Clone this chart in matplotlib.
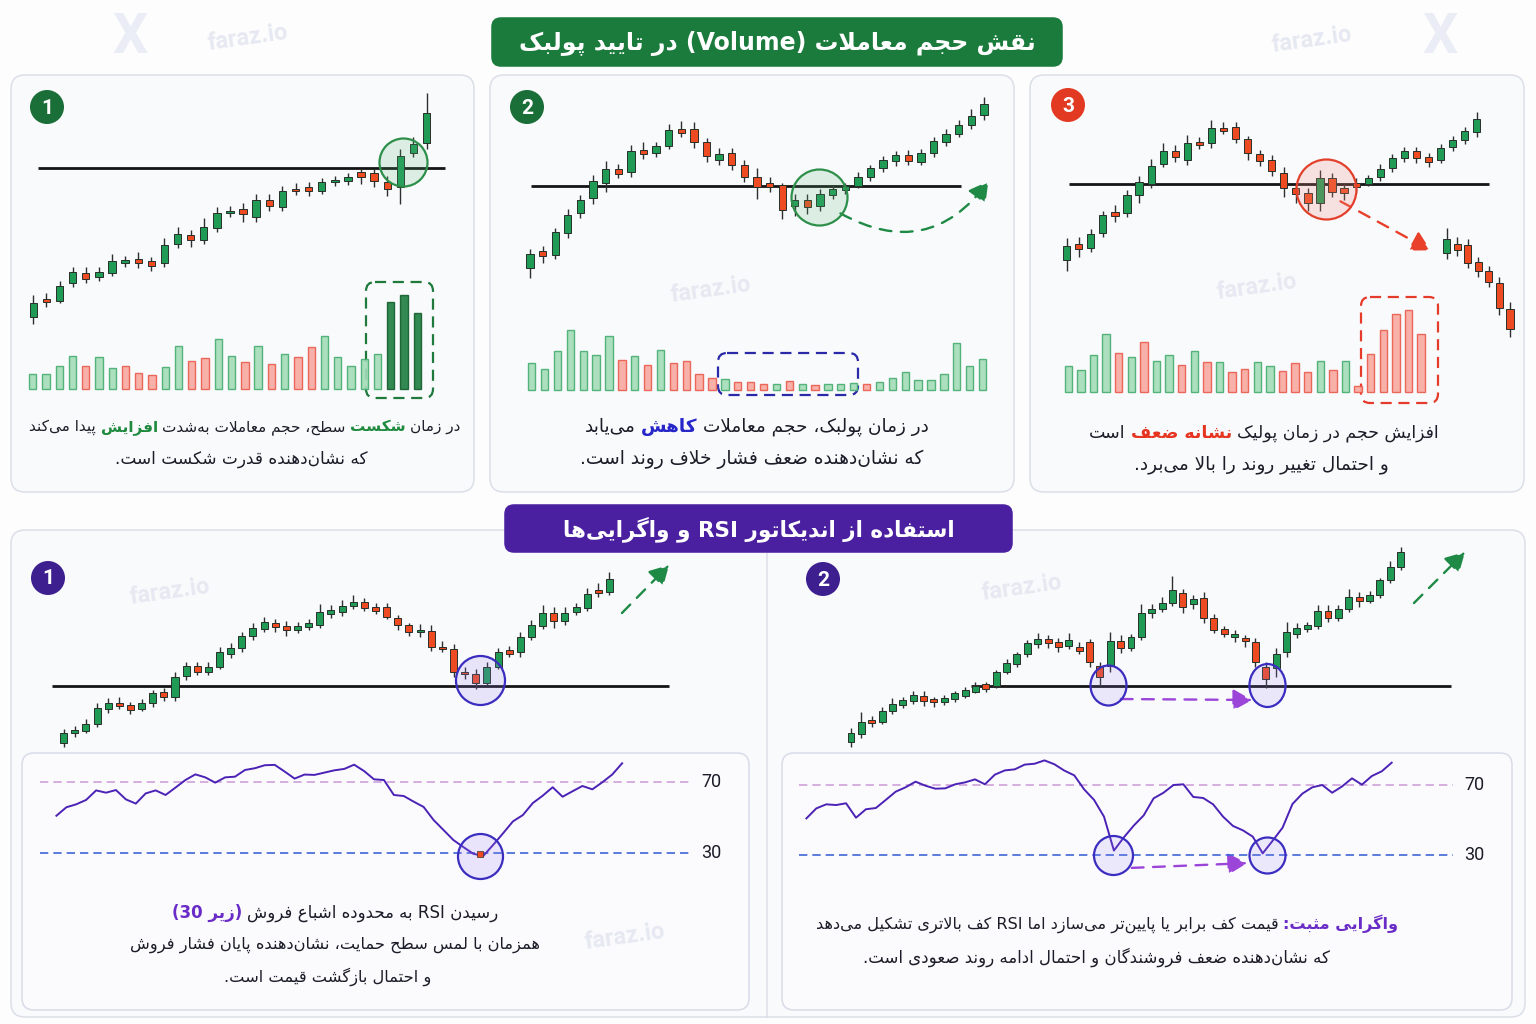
import numpy as np
import matplotlib
matplotlib.use("Agg")
import matplotlib.pyplot as plt
from matplotlib.patches import FancyBboxPatch, Circle, FancyArrowPatch
from matplotlib.offsetbox import TextArea, HPacker, AnnotationBbox
from matplotlib.path import Path
from matplotlib.transforms import Affine2D

W, H = 1536, 1024

# ---------------- data ----------------
# panel 1: breakout with rising volume
p1_open = [28.8, 34.4, 33.8, 39.0, 42.2, 40.8, 42.0, 45.0, 46.4, 45.8, 45.0, 50.7, 53.6, 52.0, 55.6, 60.1, 61.2, 58.8, 64.1, 62.0, 67.3, 67.8, 66.6, 69.4, 69.6, 72.3, 72.0, 69.4, 67.8, 78.0, 81.0]
p1_high = [35.5, 36.0, 39.7, 43.8, 44.0, 44.0, 47.7, 47.2, 48.4, 47.0, 52.5, 55.8, 55.1, 58.5, 62.0, 62.2, 63.0, 65.8, 65.8, 68.2, 69.0, 69.5, 70.5, 71.2, 72.0, 73.4, 73.2, 71.2, 79.2, 83.0, 96.0]
p1_low = [26.7, 31.8, 33.0, 37.8, 39.2, 39.6, 41.2, 44.0, 43.5, 42.7, 43.8, 49.5, 50.0, 50.8, 54.3, 58.8, 57.5, 57.5, 60.8, 60.8, 65.5, 65.3, 65.7, 68.2, 68.5, 68.8, 68.0, 65.3, 62.8, 76.8, 79.2]
p1_close = [33.2, 33.4, 38.2, 42.3, 40.4, 42.5, 45.7, 45.9, 45.2, 44.2, 50.4, 53.8, 52.0, 56.0, 60.2, 60.6, 59.8, 64.0, 62.3, 66.7, 66.7, 66.6, 69.3, 70.0, 71.0, 70.8, 69.8, 67.2, 77.2, 80.8, 90.2]
p1_level = 73.5
p1_volume = [44, 44, 69, 98, 69, 94, 61, 68, 46, 42, 66, 128, 84, 91, 150, 98, 81, 128, 75, 104, 94, 126, 158, 96, 68, 88, 103, 261, 281, 226]
p1_vol_dir = "GGGGRGGRRRGGRRGGRGRGRRGGGGGGGG"
p1_vol_strong = 3

# panel 2: pullback on low volume
p2_open = [43.5, 48.6, 47.4, 54.2, 60.0, 64.5, 69.2, 73.2, 72.3, 79.1, 78.2, 80.3, 85.4, 85.4, 81.3, 76.0, 78.0, 74.5, 71.0, 69.0, 68.4, 62.3, 63.9, 62.3, 65.5, 66.9, 68.2, 71.0, 73.6, 75.7, 77.5, 75.5, 78.0, 81.5, 83.8, 86.4, 89.5]
p2_high = [49.2, 50.2, 55.7, 61.3, 65.5, 71.5, 75.7, 74.8, 80.5, 81.3, 81.5, 86.7, 87.6, 87.4, 82.5, 79.7, 79.5, 76.0, 73.5, 70.8, 69.2, 65.7, 65.8, 67.3, 68.4, 69.2, 72.5, 74.4, 77.2, 78.6, 79.0, 79.3, 83.0, 85.2, 88.0, 91.2, 95.0]
p2_low = [40.7, 45.0, 46.2, 52.7, 58.7, 62.7, 66.5, 70.5, 70.9, 76.3, 77.0, 79.3, 82.8, 79.7, 75.4, 74.4, 73.0, 69.3, 64.2, 66.3, 58.2, 59.3, 59.7, 60.7, 64.4, 65.7, 67.5, 69.7, 72.4, 74.2, 74.5, 74.4, 76.8, 80.2, 82.8, 85.2, 88.0]
p2_close = [47.7, 47.3, 54.3, 59.5, 64.0, 69.8, 73.2, 71.8, 78.6, 77.9, 80.2, 85.0, 84.2, 81.3, 77.1, 77.7, 74.5, 70.8, 67.8, 67.8, 61.0, 64.0, 61.9, 65.7, 67.4, 68.2, 71.0, 73.5, 75.9, 77.6, 75.7, 78.1, 81.6, 83.8, 86.5, 89.3, 92.7]
p2_level = 68.2
p2_volume = [80, 64, 118, 180, 117, 104, 161, 89, 101, 76, 119, 82, 87, 47, 35, 33, 25, 23, 18, 18, 27, 19, 16, 17, 18, 22, 19, 23, 35, 54, 31, 31, 47, 141, 71, 93]
p2_vol_dir = "GGGGGGGRGRGRRRRGRRRGRGRGGGRGGGGGGGGG"

# panel 3: pullback on high volume, then breakdown
p3_open = [46.0, 50.8, 49.5, 54.0, 60.5, 60.2, 65.5, 68.8, 74.8, 78.6, 76.0, 81.4, 81.0, 85.7, 85.8, 82.3, 77.8, 76.0, 72.2, 67.6, 66.0, 63.0, 70.5, 67.5, 69.2, 68.8, 70.8, 73.5, 76.7, 78.6, 76.8, 76.0, 79.8, 82.0, 84.5]
p3_high = [52.5, 52.8, 55.2, 60.8, 62.5, 67.0, 71.3, 76.2, 81.2, 80.5, 83.5, 83.0, 88.0, 87.3, 87.5, 83.3, 79.0, 77.5, 73.8, 69.0, 67.5, 73.0, 72.0, 69.0, 70.5, 71.5, 74.8, 77.8, 80.0, 80.0, 78.2, 80.7, 83.2, 86.0, 90.3]
p3_low = [42.8, 47.0, 48.5, 52.8, 57.5, 59.0, 63.0, 67.5, 73.8, 75.5, 74.5, 79.2, 79.5, 83.7, 81.0, 76.0, 74.2, 71.2, 65.0, 63.2, 60.7, 60.7, 65.0, 64.0, 66.5, 68.2, 69.7, 72.5, 75.5, 75.2, 74.0, 75.2, 78.7, 80.8, 83.0]
p3_close = [50.2, 49.4, 53.8, 59.5, 59.3, 65.5, 69.5, 74.3, 78.7, 77.0, 81.2, 80.4, 85.5, 84.8, 82.2, 78.0, 75.8, 72.6, 67.5, 65.7, 63.2, 70.5, 66.4, 66.2, 68.0, 70.5, 73.3, 76.7, 78.7, 76.6, 75.5, 79.7, 82.0, 84.8, 88.2]
p3_drop_open = [48.2, 50.8, 50.6, 45.3, 42.8, 39.0, 31.2]
p3_drop_high = [55.5, 53.0, 52.2, 47.0, 44.3, 41.0, 33.5]
p3_drop_low = [46.2, 47.2, 43.5, 41.0, 37.8, 29.5, 22.8]
p3_drop_close = [52.3, 49.0, 45.2, 42.8, 39.5, 31.5, 25.2]
p3_level = 68.7
p3_volume = [78, 64, 110, 173, 117, 105, 149, 91, 109, 79, 121, 89, 88, 59, 67, 89, 78, 62, 85, 59, 92, 65, 92, 17, 113, 184, 232, 245, 173]
p3_vol_dir = "GGGGRGRGGRGRGRRGGRRRGRGRRRRRR"

# bottom left: RSI oversold at support
bl_open = [43.5, 46.5, 47.3, 49.2, 53.7, 55.6, 55.0, 53.8, 55.5, 58.8, 57.5, 63.7, 66.8, 65.0, 66.5, 70.4, 72.2, 75.7, 77.8, 79.6, 78.8, 77.5, 78.5, 79.0, 82.3, 83.0, 84.8, 85.8, 84.3, 84.3, 81.2, 79.0, 76.9, 77.2, 72.4, 71.7, 64.8, 64.3, 61.7, 66.5, 71.4, 70.8, 75.5, 78.8, 82.7, 80.2, 82.8, 84.2, 89.4, 88.8]
bl_high = [47.8, 48.8, 50.7, 55.5, 57.0, 57.3, 56.0, 56.8, 59.5, 60.0, 65.0, 67.8, 68.0, 67.8, 72.5, 73.5, 76.8, 79.5, 81.4, 80.8, 80.2, 80.0, 80.8, 85.2, 85.0, 86.5, 88.0, 87.0, 85.5, 85.7, 82.0, 79.5, 79.3, 79.0, 74.2, 73.2, 66.3, 65.8, 67.8, 72.0, 72.8, 76.8, 80.5, 85.0, 84.5, 84.5, 85.7, 90.0, 91.5, 95.0]
bl_low = [42.3, 45.5, 46.5, 48.3, 52.5, 53.7, 52.4, 53.2, 54.5, 56.3, 56.3, 62.5, 64.0, 64.0, 65.7, 69.2, 71.0, 74.5, 76.8, 76.8, 75.7, 76.5, 77.5, 78.0, 81.0, 81.8, 83.7, 83.3, 82.2, 80.8, 77.5, 75.8, 75.5, 71.2, 70.8, 63.5, 62.8, 59.7, 61.0, 65.8, 69.5, 69.5, 74.5, 77.8, 78.0, 79.0, 82.0, 83.2, 87.5, 88.0]
bl_close = [46.5, 47.5, 49.3, 54.0, 55.5, 54.7, 53.4, 55.7, 58.5, 57.5, 63.5, 66.7, 65.0, 66.5, 70.8, 72.2, 75.8, 78.2, 79.8, 78.3, 77.4, 78.8, 79.7, 82.8, 83.5, 84.8, 86.0, 84.0, 83.2, 81.4, 79.0, 77.0, 77.4, 72.4, 71.7, 64.8, 64.2, 61.5, 66.4, 71.0, 70.4, 75.3, 79.0, 82.7, 80.2, 82.7, 84.5, 88.3, 88.5, 92.8]
bl_level = 60.7
bl_rsi = [51.0, 55.8, 57.5, 60.0, 65.4, 64.1, 65.6, 60.3, 57.9, 63.7, 65.4, 62.8, 67.0, 71.3, 74.5, 72.8, 69.8, 72.8, 73.2, 77.0, 78.0, 79.7, 79.9, 76.1, 72.1, 74.4, 74.2, 75.5, 76.8, 77.6, 80.0, 76.4, 71.7, 71.3, 62.8, 62.2, 59.0, 56.0, 48.6, 42.9, 37.2, 33.2, 29.4, 28.1, 34.4, 41.0, 47.8, 51.4, 58.2, 62.4, 67.2, 61.8, 64.9, 67.9, 66.0, 70.0, 74.4, 80.8]

# bottom right: positive divergence
br_open = [44.0, 46.2, 50.5, 49.8, 53.2, 55.0, 56.3, 57.8, 56.8, 55.8, 56.9, 57.8, 59.0, 61.2, 60.8, 64.8, 67.4, 70.3, 73.2, 74.7, 73.9, 72.7, 72.5, 74.0, 66.8, 66.8, 74.2, 72.2, 75.5, 82.5, 83.8, 85.7, 88.7, 85.2, 87.0, 81.0, 77.8, 75.4, 75.2, 73.8, 66.3, 66.0, 70.8, 76.3, 77.8, 78.8, 83.2, 81.2, 83.8, 87.5, 86.3, 88.0, 92.4, 96.4]
br_high = [48.0, 52.8, 51.7, 54.5, 57.0, 57.5, 59.3, 59.2, 57.5, 58.0, 59.2, 60.5, 61.8, 61.8, 65.5, 68.8, 71.0, 74.5, 76.5, 76.0, 75.0, 76.5, 73.8, 74.8, 68.0, 76.8, 76.0, 76.3, 85.2, 85.2, 87.5, 93.8, 89.8, 88.0, 89.0, 82.2, 78.8, 77.5, 76.0, 75.0, 67.8, 72.0, 79.8, 79.5, 80.0, 85.0, 85.0, 85.0, 89.7, 88.8, 89.2, 93.0, 98.2, 102.4]
br_low = [42.5, 45.2, 48.5, 49.2, 52.2, 54.2, 55.2, 54.8, 54.5, 55.0, 55.8, 57.0, 58.5, 58.8, 60.0, 64.2, 66.5, 69.3, 72.2, 72.2, 71.0, 71.8, 70.3, 66.5, 60.8, 65.0, 70.5, 71.2, 74.5, 81.0, 83.0, 84.8, 82.5, 83.8, 79.5, 76.5, 75.5, 73.8, 72.5, 66.5, 60.0, 63.5, 69.5, 75.0, 76.8, 77.8, 79.8, 80.2, 82.8, 84.5, 85.5, 87.0, 91.5, 95.5]
br_close = [46.5, 50.0, 49.5, 53.2, 55.2, 56.5, 57.9, 56.3, 55.8, 57.0, 58.5, 59.5, 60.7, 59.8, 65.0, 67.7, 70.2, 73.5, 74.8, 73.7, 72.5, 74.5, 71.3, 67.8, 63.5, 74.1, 72.2, 75.3, 82.7, 83.7, 85.7, 89.5, 84.5, 86.7, 81.2, 77.5, 76.2, 76.2, 74.2, 68.0, 62.8, 70.4, 76.8, 78.0, 79.0, 83.2, 81.2, 83.8, 87.5, 86.3, 88.0, 92.5, 96.4, 100.9]
br_level = 60.7
br_rsi = [51.0, 56.7, 59.0, 58.6, 59.6, 51.4, 56.2, 56.9, 61.5, 66.2, 68.7, 71.9, 69.6, 67.9, 68.1, 70.4, 71.5, 73.2, 70.4, 75.9, 78.3, 78.9, 81.6, 82.1, 84.0, 81.8, 78.2, 75.5, 67.5, 61.5, 52.0, 32.7, 40.2, 46.9, 52.7, 62.4, 65.6, 70.0, 70.4, 63.2, 62.6, 59.0, 52.0, 46.7, 44.2, 40.6, 31.1, 38.3, 45.7, 59.2, 65.1, 68.7, 70.0, 65.6, 69.2, 73.8, 70.2, 75.1, 77.8, 82.7]
rsi_bands = [70, 30]

# ---------------- persian text (matplotlib has no shaping/bidi) ----------------
FORMS = {
    'ا': (0xFE8D, 0xFE8E), 'آ': (0xFE81, 0xFE82), 'د': (0xFEA9, 0xFEAA), 'ذ': (0xFEAB, 0xFEAC),
    'ر': (0xFEAD, 0xFEAE), 'ز': (0xFEAF, 0xFEB0), 'ژ': (0xFB8A, 0xFB8B), 'و': (0xFEED, 0xFEEE),
    'ب': (0xFE8F, 0xFE90, 0xFE91, 0xFE92), 'پ': (0xFB56, 0xFB57, 0xFB58, 0xFB59),
    'ت': (0xFE95, 0xFE96, 0xFE97, 0xFE98), 'ث': (0xFE99, 0xFE9A, 0xFE9B, 0xFE9C),
    'ج': (0xFE9D, 0xFE9E, 0xFE9F, 0xFEA0), 'چ': (0xFB7A, 0xFB7B, 0xFB7C, 0xFB7D),
    'ح': (0xFEA1, 0xFEA2, 0xFEA3, 0xFEA4), 'خ': (0xFEA5, 0xFEA6, 0xFEA7, 0xFEA8),
    'س': (0xFEB1, 0xFEB2, 0xFEB3, 0xFEB4), 'ش': (0xFEB5, 0xFEB6, 0xFEB7, 0xFEB8),
    'ص': (0xFEB9, 0xFEBA, 0xFEBB, 0xFEBC), 'ض': (0xFEBD, 0xFEBE, 0xFEBF, 0xFEC0),
    'ط': (0xFEC1, 0xFEC2, 0xFEC3, 0xFEC4), 'ظ': (0xFEC5, 0xFEC6, 0xFEC7, 0xFEC8),
    'ع': (0xFEC9, 0xFECA, 0xFECB, 0xFECC), 'غ': (0xFECD, 0xFECE, 0xFECF, 0xFED0),
    'ف': (0xFED1, 0xFED2, 0xFED3, 0xFED4), 'ق': (0xFED5, 0xFED6, 0xFED7, 0xFED8),
    'ک': (0xFB8E, 0xFB8F, 0xFB90, 0xFB91), 'گ': (0xFB92, 0xFB93, 0xFB94, 0xFB95),
    'ل': (0xFEDD, 0xFEDE, 0xFEDF, 0xFEE0), 'م': (0xFEE1, 0xFEE2, 0xFEE3, 0xFEE4),
    'ن': (0xFEE5, 0xFEE6, 0xFEE7, 0xFEE8), 'ه': (0xFEE9, 0xFEEA, 0xFEEB, 0xFEEC),
    'ی': (0xFBFC, 0xFBFD, 0xFBFE, 0xFBFF),
}
LAM_ALEF = {'ا': (0xFEFB, 0xFEFC), 'آ': (0xFEF5, 0xFEF6)}
MIRROR = {'(': ')', ')': '('}


def shape(s):
    s = s.replace('ي', 'ی').replace('ك', 'ک')
    units = []
    i = 0
    while i < len(s):
        c = s[i]
        if c == 'ل' and i + 1 < len(s) and s[i + 1] in LAM_ALEF:
            units.append(LAM_ALEF[s[i + 1]])
            i += 2
        else:
            units.append(FORMS.get(c, c))
            i += 1
    out = []
    for k, u in enumerate(units):
        if isinstance(u, str):
            out.append(u)
            continue
        prev = units[k - 1] if k > 0 else None
        nxt = units[k + 1] if k + 1 < len(units) else None
        jp = isinstance(prev, tuple) and len(prev) == 4
        jn = len(u) == 4 and isinstance(nxt, tuple)
        if jp and jn:
            out.append(chr(u[3]))
        elif jp:
            out.append(chr(u[1]))
        elif jn:
            out.append(chr(u[2]))
        else:
            out.append(chr(u[0]))
    return ''.join(out).replace('\u200c', '')


def visual(s):
    if not any('\u0600' <= ch <= '\u06ff' for ch in s):
        return s
    runs = []
    for ch in shape(s):
        if ch.isascii() and ch.isalnum():
            if runs and runs[-1][0]:
                runs[-1][1] += ch
            else:
                runs.append([True, ch])
        else:
            runs.append([False, MIRROR.get(ch, ch)])
    return ''.join(r[1] for r in reversed(runs))


# ---------------- colours ----------------
GREEN = '#1f9b56'
RED = '#ee4b22'
TEXT = '#1c1c28'
HL_GREEN = '#1f8a3e'
HL_BLUE = '#2626c9'
HL_RED = '#e5341f'
HL_PURPLE = '#6a2cc6'
PURPLE = '#4a20a0'

fig = plt.figure(figsize=(W / 100, H / 100), dpi=100, facecolor='#fdfdfe')
bg = fig.add_axes([0, 0, 1, 1])
bg.set_xlim(0, W)
bg.set_ylim(H, 0)
bg.axis('off')


def box(x0, y0, x1, y1, face='#f9fafc', edge='#dcdfe8', r=14, z=0, lw=1.1, ls='-'):
    bg.add_patch(FancyBboxPatch((x0, y0), x1 - x0, y1 - y0,
                                boxstyle=f'round,pad=0,rounding_size={r}',
                                fc=face, ec=edge, lw=lw, ls=ls, zorder=z))


def banner(x0, y0, x1, y1, color, text, size):
    box(x0, y0, x1, y1, face=color, edge=color, r=9, z=3)
    bg.text((x0 + x1) / 2, (y0 + y1) / 2 + 1, visual(text), color='white', fontsize=size,
            fontweight='bold', ha='center', va='center', family='DejaVu Sans', zorder=4)


def badge(x, y, color, num):
    bg.add_patch(Circle((x, y), 17, fc=color, ec='none', zorder=3))
    bg.text(x, y + 1, num, color='white', fontsize=15, fontweight='bold',
            ha='center', va='center', family='Roboto', zorder=4)


def rtl_line(x, y, parts, size=12.0):
    boxes = [TextArea(visual(t.strip()),
                      textprops=dict(color=c, fontsize=size, family='DejaVu Sans',
                                     fontweight='bold' if b else 'normal'))
             for t, c, b in reversed(parts)]
    pack = HPacker(children=boxes, align='baseline', pad=0, sep=size * 0.3)
    bg.add_artist(AnnotationBbox(pack, (x, y), xycoords='data', frameon=False,
                                 box_alignment=(0.5, 0.5), zorder=5))


def arrow(p0, p1, color, rad=0.0):
    bg.add_patch(FancyArrowPatch(p0, p1, arrowstyle='-|>,head_length=0.9,head_width=0.5',
                                 connectionstyle=f'arc3,rad={rad}', color=color, lw=1.7,
                                 linestyle=(0, (5, 4)), mutation_scale=13, zorder=6))


def frame(bx, x_first, x_step, y_ref, y_scale):
    l, t, r, b = bx
    ax = fig.add_axes([l / W, 1 - b / H, (r - l) / W, (b - t) / H])
    ax.set_xlim((l - x_first) / x_step, (r - x_first) / x_step)
    py, v = y_ref
    ax.set_ylim(v - (b - py) / y_scale, v + (py - t) / y_scale)
    ax.set_axis_off()
    return ax


def candles(ax, x, o, h, l, c, width):
    o, h, l, c = (np.asarray(a, float) for a in (o, h, l, c))
    up = c >= o
    ax.vlines(x, l, h, color='#2f2f2f', lw=1.0, zorder=2)
    ax.bar(x, np.abs(c - o), bottom=np.minimum(o, c), width=width,
           color=np.where(up, GREEN, RED), edgecolor='#26302a', lw=0.7, zorder=3)


def volumes(ax, v, dirs, width, strong=0):
    x = np.arange(len(v))
    fc = ['#a3dcb8' if d == 'G' else '#f8a99f' for d in dirs]
    ec = ['#45ad70' if d == 'G' else '#ea5b4d' for d in dirs]
    for k in range(len(v) - strong, len(v)):
        fc[k], ec[k] = '#1c7d3e', '#135c2c'
    ax.bar(x, v, width=width, color=fc, edgecolor=ec, lw=1.0, alpha=0.9, zorder=2)


def ring(ax, x, y, d_px, face, edge, aspect=1.0):
    marker = Path.unit_circle().transformed(Affine2D().scale(aspect, 1.0))
    ax.scatter([x], [y], s=(d_px * 0.72) ** 2, marker=marker, facecolor=face,
               edgecolor=edge, lw=1.6, zorder=5)


# ---------------- background, panels, banners ----------------
box(11, 75, 474, 492)
box(490, 75, 1014, 492)
box(1030, 75, 1524, 492)
box(11, 530, 1525, 1017)
bg.plot([767, 767], [553, 1017], color='#dcdfe8', lw=1.1, zorder=0.5)
box(22, 753, 749, 1010, face='#fbfbfe', edge='#d9dce8', r=12, z=0.6)
box(782, 753, 1512, 1010, face='#fbfbfe', edge='#d9dce8', r=12, z=0.6)

for (x, y) in [(248, 38), (1312, 40), (711, 290), (1257, 287), (170, 592), (1022, 588), (625, 937)]:
    bg.text(x, y, 'faraz.io', fontsize=17, fontweight='bold', color='#e6e9f1', rotation=8,
            ha='center', va='center', family='Roboto', zorder=1)
for x in (130, 1440):
    bg.text(x, 38, 'X', fontsize=40, fontweight='bold', color='#eaedf5',
            ha='center', va='center', family='Roboto', zorder=1)

banner(492, 18, 1062, 66, '#1a7b3c', 'نقش حجم معاملات (Volume) در تایید پولبک', 17)
banner(505, 505, 1012, 552, PURPLE, 'استفاده از اندیکاتور RSI و واگرایی‌ها', 15.5)

badge(47, 107, '#1a6e37', '1')
badge(527, 107, '#1a6e37', '2')
badge(1068, 105, '#e23a22', '3')
badge(48, 578, '#3d1f8f', '1')
badge(823, 579, '#3d1f8f', '2')

# ---------------- panel 1 ----------------
ax = frame((11, 75, 474, 400), 33.3, 13.11, (80, 100), 10 / 3)
x = np.arange(len(p1_open))
ax.hlines(p1_level, 0.36, 31.4, color='#151515', lw=2, zorder=1)
candles(ax, x, p1_open, p1_high, p1_low, p1_close, 0.56)
ring(ax, 28.2, 75.5, 48, (0.35, 0.72, 0.45, 0.18), '#2e8f4a')
vx = frame((11, 250, 474, 400), 32.7, 13.26, (388.7, 0), 1 / 3)
volumes(vx, p1_volume, p1_vol_dir, 0.55, p1_vol_strong)
box(366, 282, 433, 398, face='none', edge='#1f7a3c', r=9, z=6, lw=1.6, ls=(0, (5, 3)))
rtl_line(245, 427, [('در زمان ', TEXT, False), ('شکست', HL_GREEN, True),
                    (' سطح، حجم معاملات به‌شدت ', TEXT, False), ('افزایش', HL_GREEN, True),
                    (' پیدا می‌کند', TEXT, False)], size=11)
rtl_line(241, 459, [('که نشان‌دهنده قدرت شکست است.', TEXT, False)], size=12.2)

# ---------------- panel 2 ----------------
ax = frame((490, 75, 1014, 400), 530.0, 12.61, (80, 100), 10 / 3)
x = np.arange(len(p2_open))
ax.hlines(p2_level, 0.08, 34.2, color='#151515', lw=2, zorder=1)
candles(ax, x, p2_open, p2_high, p2_low, p2_close, 0.58)
ring(ax, 22.94, 65.0, 56, (0.35, 0.72, 0.45, 0.18), '#2e8f4a')
vx = frame((490, 250, 1014, 400), 531.7, 12.88, (390, 0), 1 / 3)
volumes(vx, p2_volume, p2_vol_dir, 0.57)
box(718, 353, 858, 395, face='none', edge='#2a2aa8', r=9, z=6, lw=1.6, ls=(0, (5, 3)))
arrow((838, 212), (990, 179), '#1f8a45', rad=0.45)
rtl_line(757, 427, [('در زمان پولبک، حجم معاملات ', TEXT, False), ('کاهش', HL_BLUE, True),
                    (' می‌یابد', TEXT, False)], size=13.3)
rtl_line(752, 459, [('که نشان‌دهنده ضعف فشار خلاف روند است.', TEXT, False)], size=13.4)

# ---------------- panel 3 ----------------
ax = frame((1030, 75, 1524, 420), 1066.7, 12.06, (80, 100), 10 / 3)
x = np.arange(len(p3_open))
ax.hlines(p3_level, 0.2, 35.0, color='#151515', lw=2, zorder=1)
candles(ax, x, p3_open, p3_high, p3_low, p3_close, 0.6)
xd = 31.5 + 0.876 * np.arange(len(p3_drop_open))
candles(ax, xd, p3_drop_open, p3_drop_high, p3_drop_low, p3_drop_close, 0.6)
ring(ax, 21.5, 67.2, 60, (0.95, 0.55, 0.5, 0.22), '#e3402c')
vx = frame((1030, 250, 1524, 420), 1068.3, 12.6, (391.7, 0), 1 / 3)
volumes(vx, p3_volume, p3_vol_dir, 0.58)
box(1361, 297, 1438, 403, face='none', edge='#e53b2a', r=9, z=6, lw=1.6, ls=(0, (5, 3)))
arrow((1338, 200), (1433, 251.7), '#e8402a')
rtl_line(1264, 433, [('افزایش حجم در زمان پولیک ', TEXT, False), ('نشانه ضعف', HL_RED, True),
                     (' است', TEXT, False)], size=12.5)
rtl_line(1261, 465, [('و احتمال تغییر روند را بالا می‌برد.', TEXT, False)], size=13.3)

# ---------------- bottom left ----------------
ax = frame((11, 553, 766, 752), 63.6, 11.14, (555, 100), 10 / 3)
x = np.arange(len(bl_open))
ax.hlines(bl_level, -1.04, 54.3, color='#151515', lw=2, zorder=1)
candles(ax, x, bl_open, bl_high, bl_low, bl_close, 0.63)
ring(ax, 37.4, 62.5, 49, (0.6, 0.5, 0.95, 0.18), '#3b2dbf')
arrow((620, 615), (671, 563), '#1f8a45')

rx = frame((22, 753, 749, 1010), 56.4, 9.925, (782.3, 70), 1.76)
xr = np.arange(len(bl_rsi))
rx.hlines(rsi_bands[0], -1.68, 64.1, color='#cfa3da', lw=1.2, linestyles=(0, (5, 3)))
rx.hlines(rsi_bands[1], -1.68, 64.1, color='#3f66d8', lw=1.2, linestyles=(0, (5, 3)))
rx.plot(xr, bl_rsi, color='#4b22b5', lw=1.4, zorder=3)
k = int(np.argmin(bl_rsi))
ring(rx, 42.7, 28.1, 45, (0.6, 0.5, 0.95, 0.18), '#3b2dbf')
rx.scatter([k - 0.3], [bl_rsi[k] + 1], marker='s', s=16, color=RED, edgecolor='#333', lw=0.5, zorder=6)
for v in rsi_bands:
    bg.text(711, 782.3 + (70 - v) * 1.76, str(v), fontsize=13, color=TEXT, ha='center',
            va='center', family='Roboto', zorder=5)
rtl_line(335, 913, [('رسیدن RSI به محدوده اشباع فروش ', TEXT, False),
                    ('(زیر 30)', HL_PURPLE, True)], size=12)
rtl_line(335, 945, [('همزمان با لمس سطح حمایت، نشان‌دهنده پایان فشار فروش', TEXT, False)], size=11.7)
rtl_line(328, 977, [('و احتمال بازگشت قیمت است.', TEXT, False)], size=11.7)

# ---------------- bottom right ----------------
ax = frame((768, 540, 1525, 752), 851, 10.37, (555, 100), 10 / 3)
x = np.arange(len(br_open))
ax.hlines(br_level, 11.6, 57.9, color='#151515', lw=2, zorder=1)
candles(ax, x, br_open, br_high, br_low, br_close, 0.67)
ring(ax, 24.8, 61.0, 40, (0.6, 0.5, 0.95, 0.15), '#3b2dbf', aspect=0.9)
ring(ax, 40.1, 61.0, 43, (0.6, 0.5, 0.95, 0.15), '#3b2dbf', aspect=0.84)
arrow((1118, 699), (1255, 700), '#9b45d9')
arrow((1412, 605), (1467, 550), '#1f8a45')

rx = frame((782, 753, 1512, 1010), 806.4, 9.92, (785, 70), 1.7575)
xr = np.arange(len(br_rsi))
rx.hlines(rsi_bands[0], -0.75, 65.2, color='#cfa3da', lw=1.2, linestyles=(0, (5, 3)))
rx.hlines(rsi_bands[1], -0.75, 65.2, color='#3f66d8', lw=1.2, linestyles=(0, (5, 3)))
rx.plot(xr, br_rsi, color='#4b22b5', lw=1.4, zorder=3)
ring(rx, 30.9, 29.9, 39, (0.6, 0.5, 0.95, 0.15), '#3b2dbf')
ring(rx, 46.4, 30.2, 36, (0.6, 0.5, 0.95, 0.15), '#3b2dbf')
arrow((1129, 868), (1250, 863), '#9b45d9')
for v in rsi_bands:
    bg.text(1474, 785 + (70 - v) * 1.7575, str(v), fontsize=13, color=TEXT, ha='center',
            va='center', family='Roboto', zorder=5)
rtl_line(1107, 924, [('واگرایی مثبت:', HL_PURPLE, True),
                     (' قیمت کف برابر یا پایین‌تر می‌سازد اما RSI کف بالاتری تشکیل می‌دهد', TEXT, False)],
         size=11.6)
rtl_line(1096, 957, [('که نشان‌دهنده ضعف فروشندگان و احتمال ادامه روند صعودی است.', TEXT, False)], size=12)

fig.savefig('out.png', dpi=100, facecolor=fig.get_facecolor())
